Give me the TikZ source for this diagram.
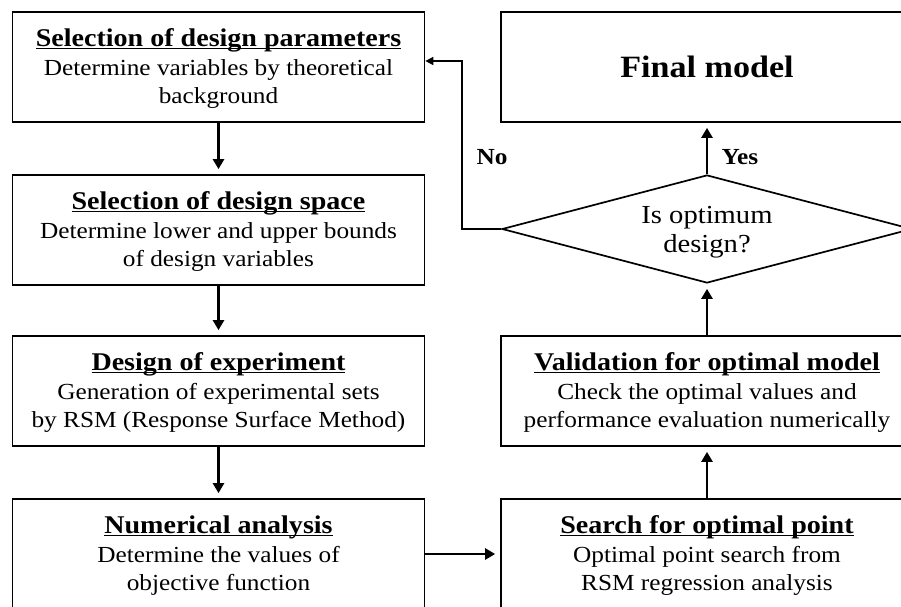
\documentclass[tikz,border=0pt]{standalone}
\usepackage{fontspec}
\setmainfont{Liberation Serif}[FakeStretch=1.1]
\usetikzlibrary{shapes.geometric,arrows.meta}
\tikzset{
  stepbox/.style={draw, line width=1.7pt, minimum width=412pt, minimum height=110pt,
    inner sep=0pt, align=center, font=\fontsize{23}{28}\selectfont},
  decision/.style={draw, line width=1.7pt, shape=diamond, aspect=3.8, minimum width=410pt,
    minimum height=108pt, inner sep=0pt, align=center, font=\fontsize{26}{29}\selectfont},
  flow/.style={line width=2.6pt, -{Triangle[length=10pt,width=11pt]}, shorten >=5pt},
  loopline/.style={line width=1.6pt, -{Triangle[length=8pt,width=8pt]}},
  lbl/.style={font=\fontsize{23}{25}\selectfont\bfseries}
}
\newcommand{\ttl}[1]{{\fontsize{25.5}{27}\selectfont\rule{0pt}{23pt}\underline{\raisebox{0pt}[\height][0pt]{\textbf{#1}}}}\\[0.5pt]}
\newcommand{\lastline}{\rule[-7pt]{0pt}{7pt}}
\begin{document}
\begin{tikzpicture}[x=1pt,y=-1pt]
\useasboundingbox (0,0) rectangle (901,606);
\clip (0,0) rectangle (901,606);
\node[stepbox] (b1) at (218.5,67) {\ttl{Selection of design parameters}Determine variables by theoretical\\background\lastline};
\node[stepbox] (b2) at (218.5,230) {\ttl{Selection of design space}Determine lower and upper bounds\\of design variables\lastline};
\node[stepbox] (b3) at (218.5,391) {\ttl{Design of experiment}Generation of experimental sets\\by RSM (Response Surface Method)\lastline};
\node[stepbox] (b4) at (218.5,554) {\ttl{Numerical analysis}Determine the values of\\objective function\lastline};
\node[stepbox, font=\fontsize{31}{36}\selectfont\bfseries] (fm) at (707,67) {Final model};
\node[decision] (dq) at (707,229) {\rule{0pt}{24pt}Is optimum\\design?};
\node[stepbox] (vm) at (707,391) {\ttl{Validation for optimal model}Check the optimal values and\\performance evaluation numerically\lastline};
\node[stepbox] (sp) at (707,554) {\ttl{Search for optimal point}Optimal point search from\\RSM regression analysis\lastline};
\draw[flow] (b1) -- (b2);
\draw[flow] (b2) -- (b3);
\draw[flow] (b3) -- (b4);
\draw[flow] (b4) -- (sp);
\draw[flow] (sp) -- (vm);
\draw[flow] (vm) -- (dq);
\draw[flow] (dq.north) -- (fm);
\coordinate (c1) at (462,229);
\coordinate (c2) at (462,61);
\draw[loopline] (dq.west) -- (c1) -- (c2) -- (b1.east |- c2);
\node[lbl] (no) at (492,157) {No};
\node[lbl] (yes) at (740,157) {Yes};
\end{tikzpicture}
\end{document}
